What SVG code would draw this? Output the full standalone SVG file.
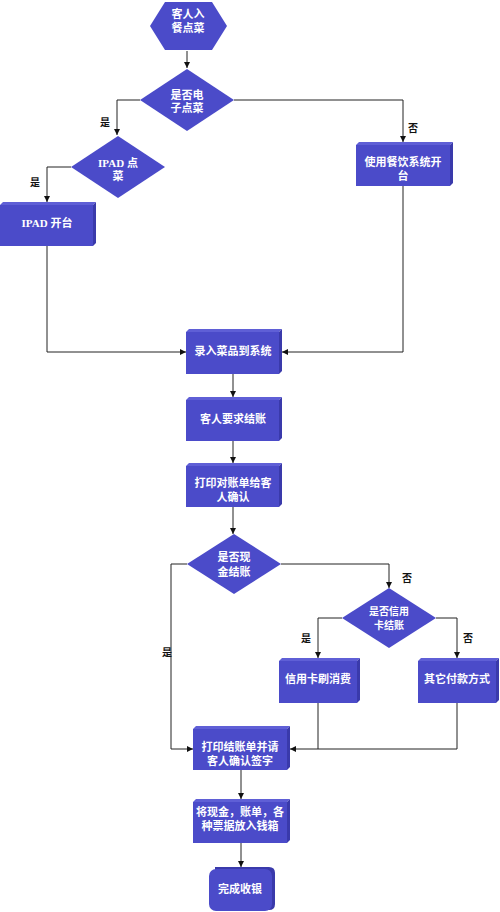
<svg xmlns="http://www.w3.org/2000/svg" width="500" height="912" viewBox="0 0 500 912">
<defs>
<style>
.f{fill:#4b4bc9}
.t{fill:#5f5fd6}
.s{fill:#3a3aab}
.tx{fill:#ffffff;font-family:"Liberation Serif","Noto Sans CJK SC",serif;font-size:11px;font-weight:bold;text-anchor:middle}
.lb{fill:#111111;font-family:"Liberation Serif","Noto Sans CJK SC",serif;font-size:10px;font-weight:bold;text-anchor:middle}
.c{fill:none;stroke:#222222;stroke-width:1}
</style>
<marker id="ah" markerUnits="userSpaceOnUse" markerWidth="6" markerHeight="6" refX="6" refY="3" orient="auto">
<path d="M0,0 L6,3 L0,6 z" fill="#111111"/>
</marker>
</defs>
<rect width="500" height="912" fill="#ffffff"/>

<g id="connectors">
<path class="c" d="M187,51 V68" marker-end="url(#ah)"/>
<path class="c" d="M140,100 H117 V135" marker-end="url(#ah)"/>
<path class="c" d="M71,167 H47 V202" marker-end="url(#ah)"/>
<path class="c" d="M47,246 V352 H186" marker-end="url(#ah)"/>
<path class="c" d="M234,100 H403 V142" marker-end="url(#ah)"/>
<path class="c" d="M403,186 V352 H282" marker-end="url(#ah)"/>
<path class="c" d="M233,374 V397" marker-end="url(#ah)"/>
<path class="c" d="M233,441 V463" marker-end="url(#ah)"/>
<path class="c" d="M233,507 V534" marker-end="url(#ah)"/>
<path class="c" d="M187,564 H171 V749 H193" marker-end="url(#ah)"/>
<path class="c" d="M281,564 H389 V588" marker-end="url(#ah)"/>
<path class="c" d="M342,618 H318 V658" marker-end="url(#ah)"/>
<path class="c" d="M436,618 H457 V658" marker-end="url(#ah)"/>
<path class="c" d="M318,703 V749"/>
<path class="c" d="M457,703 V749 H290" marker-end="url(#ah)"/>
<path class="c" d="M241,770 V799" marker-end="url(#ah)"/>
<path class="c" d="M241,843 V867" marker-end="url(#ah)"/>
<text class="lb" x="105" y="126">是</text>
<text class="lb" x="35" y="186">是</text>
<text class="lb" x="413" y="132">否</text>
<text class="lb" x="407" y="582">否</text>
<text class="lb" x="306" y="642">是</text>
<text class="lb" x="468" y="642">否</text>
<text class="lb" x="167" y="656">是</text>
</g>

<g id="n-start">
<polygon class="f" points="150,26 165,2 212,2 227,26 212,50 165,50"/>
<text class="tx" x="188" y="18">客人入</text>
<text class="tx" x="188" y="32">餐点菜</text>
</g>

<g id="n-dec-electronic">
<polygon class="f" points="187,69 234,100 187,131 140,100"/>
<text class="tx" x="187" y="99">是否电</text>
<text class="tx" x="187" y="112">子点菜</text>
</g>

<g id="n-dec-ipad">
<polygon class="f" points="118,136 165,167 118,198 71,167"/>
<text class="tx" x="118" y="167">IPAD 点</text>
<text class="tx" x="118" y="180">菜</text>
</g>

<g id="n-ipad-open">
<polygon class="f" points="0,205 93,205 93,246 0,246"/>
<polygon class="t" points="0,205 3,202 96,202 93,205"/>
<polygon class="s" points="93,205 96,202 96,243 93,246"/>
<text class="tx" x="47" y="227">IPAD 开台</text>
</g>

<g id="n-system-open">
<polygon class="f" points="356,145 450,145 450,186 356,186"/>
<polygon class="t" points="356,145 359,142 453,142 450,145"/>
<polygon class="s" points="450,145 453,142 453,183 450,186"/>
<text class="tx" x="403" y="166">使用餐饮系统开</text>
<text class="tx" x="403" y="180">台</text>
</g>

<g id="n-enter">
<polygon class="f" points="186,332 279,332 279,374 186,374"/>
<polygon class="t" points="186,332 189,329 282,329 279,332"/>
<polygon class="s" points="279,332 282,329 282,371 279,374"/>
<text class="tx" x="233" y="355">录入菜品到系统</text>
</g>

<g id="n-request">
<polygon class="f" points="186,400 279,400 279,441 186,441"/>
<polygon class="t" points="186,400 189,397 282,397 279,400"/>
<polygon class="s" points="279,400 282,397 282,438 279,441"/>
<text class="tx" x="233" y="423">客人要求结账</text>
</g>

<g id="n-print-bill">
<polygon class="f" points="186,466 279,466 279,507 186,507"/>
<polygon class="t" points="186,466 189,463 282,463 279,466"/>
<polygon class="s" points="279,466 282,463 282,504 279,507"/>
<text class="tx" x="233" y="487">打印对账单给客</text>
<text class="tx" x="233" y="501">人确认</text>
</g>

<g id="n-dec-cash">
<polygon class="f" points="234,534 281,564 234,594 187,564"/>
<text class="tx" x="234" y="561">是否现</text>
<text class="tx" x="234" y="576">金结账</text>
</g>

<g id="n-dec-card">
<polygon class="f" points="389,588 436,618 389,648 342,618"/>
<text class="tx" x="389" y="615" style="font-size:10px">是否信用</text>
<text class="tx" x="389" y="629" style="font-size:10px">卡结账</text>
</g>

<g id="n-card">
<polygon class="f" points="279,661 357,661 357,703 279,703"/>
<polygon class="t" points="279,661 282,658 360,658 357,661"/>
<polygon class="s" points="357,661 360,658 360,700 357,703"/>
<text class="tx" x="318" y="683">信用卡刷消费</text>
</g>

<g id="n-other">
<polygon class="f" points="418,661 496,661 496,703 418,703"/>
<polygon class="t" points="418,661 421,658 499,658 496,661"/>
<polygon class="s" points="496,661 499,658 499,700 496,703"/>
<text class="tx" x="457" y="683">其它付款方式</text>
</g>

<g id="n-print-receipt">
<polygon class="f" points="193,729 287,729 287,770 193,770"/>
<polygon class="t" points="193,729 196,726 290,726 287,729"/>
<polygon class="s" points="287,729 290,726 290,767 287,770"/>
<text class="tx" x="240" y="751">打印结账单并请</text>
<text class="tx" x="240" y="765">客人确认签字</text>
</g>

<g id="n-cashbox">
<polygon class="f" points="193,802 287,802 287,843 193,843"/>
<polygon class="t" points="193,802 196,799 290,799 287,802"/>
<polygon class="s" points="287,802 290,799 290,840 287,843"/>
<text class="tx" x="240" y="816">将现金，账单，各</text>
<text class="tx" x="240" y="830">种票据放入钱箱</text>
</g>

<g id="n-end">
<path class="s" d="M215,867 H269 Q275,867 275,873 V904 Q275,910 269,910 H215 Z"/>
<rect class="f" x="209" y="869" width="63" height="42" rx="7"/>
<text class="tx" x="240" y="893">完成收银</text>
</g>
</svg>
